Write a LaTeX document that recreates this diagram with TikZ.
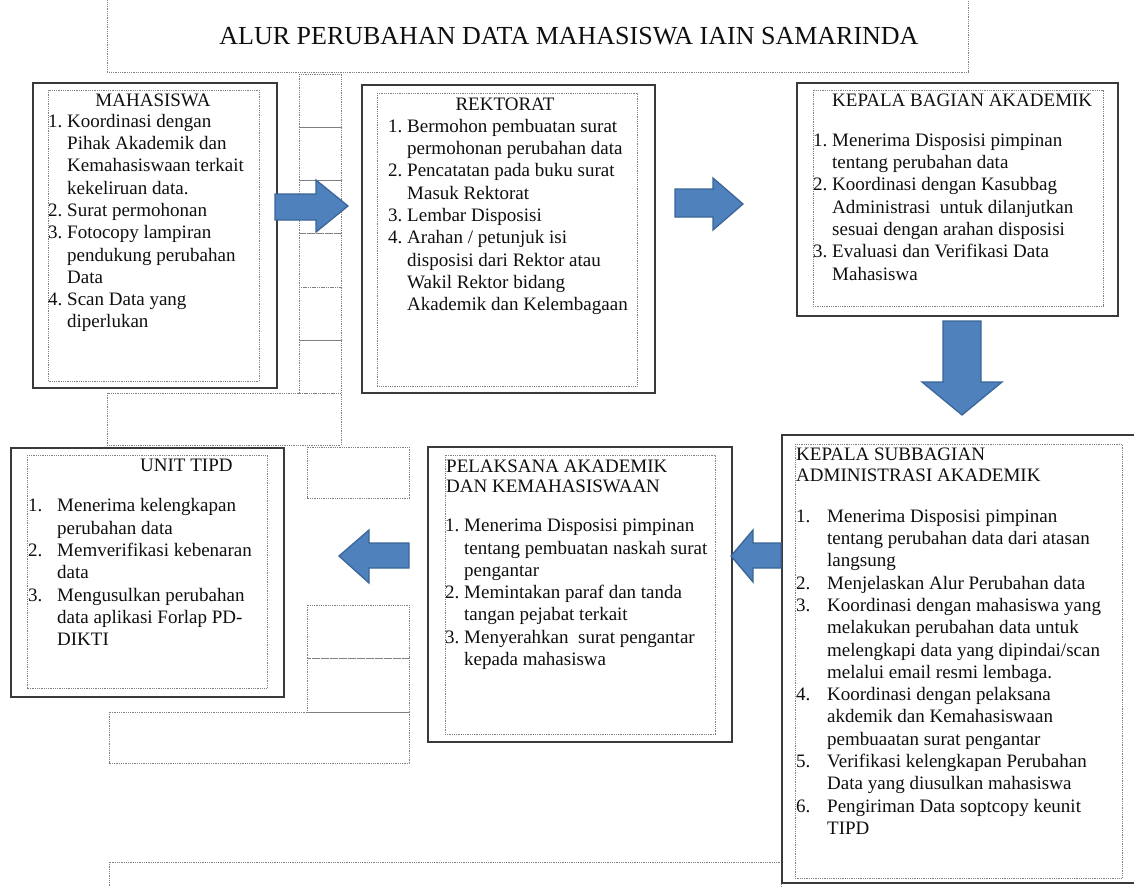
\documentclass[tikz,border=0pt]{standalone}
\usepackage{fontspec}
\setmainfont{Liberation Serif}
\newlength{\numw}
\newcommand{\itemline}[2]{\makebox[\numw][l]{#1}#2}
\newcommand{\contline}[1]{\hspace*{\numw}#1}
\newcommand{\topstrut}{\rule{0pt}{15pt}}
\definecolor{boxgray}{HTML}{3A3A3A}
\definecolor{dotgray}{HTML}{808080}
\definecolor{arrowblue}{HTML}{4F81BD}
\definecolor{arrowedge}{HTML}{3A6698}
\definecolor{txt}{HTML}{0F0F0F}
\tikzset{
  outerbox/.style={draw=boxgray, line width=1.6pt, fill=white},
  dotbox/.style={draw=dotgray, line width=0.9pt, dash pattern=on 0.9pt off 0.9pt},
  blockarrow/.style={fill=arrowblue, draw=arrowedge, line width=1.3pt, line join=miter},
  bodytext/.style={anchor=north west, inner sep=0pt, align=left, text=txt},
  headtext/.style={inner sep=0pt, text=txt, font=\fontsize{19}{20}\selectfont},
}
\begin{document}
\begin{tikzpicture}[x=1pt,y=-1pt]
\useasboundingbox (0,0) rectangle (1134,886);
\fill[white] (0,0) rectangle (1134,886);

% background dotted boxes
\draw[dotbox] (107,-5) rectangle (968,72);
\foreach \ya/\yb in {74/127,127/180,180/233,233/287,287/340,340/393}
  \draw[dotbox] (299,\ya) rectangle (341,\yb);
\draw[dotbox] (107,393) rectangle (341,445);
\draw[dotbox] (307,447) rectangle (409,498);
\draw[dotbox] (307,605) rectangle (409,658);
\draw[dotbox] (307,658) rectangle (409,712);
\draw[dotbox] (109,712) rectangle (409,763);
\draw[dotbox] (109,862) rectangle (781,900);

% title
\node[inner sep=0pt, anchor=base, text=txt, font=\fontsize{26}{28}\selectfont] (title) at (569,44)
  {ALUR PERUBAHAN DATA MAHASISWA IAIN SAMARINDA};

% MAHASISWA
\draw[outerbox] (33,83) rectangle (277,388);
\draw[dotbox] (48,90) rectangle (259,381);
\node[headtext, anchor=base] (mhsT) at (153,106) {MAHASISWA};
\node[bodytext, font={\fontsize{19}{22.3}\selectfont\setlength{\numw}{19pt}}] (mhs) at (48,112) {%
\topstrut\itemline{1.}{Koordinasi dengan}\\
\contline{Pihak Akademik dan}\\
\contline{Kemahasiswaan terkait}\\
\contline{kekeliruan data.}\\
\itemline{2.}{Surat permohonan}\\
\itemline{3.}{Fotocopy lampiran}\\
\contline{pendukung perubahan}\\
\contline{Data}\\
\itemline{4.}{Scan Data yang}\\
\contline{diperlukan}};

% REKTORAT
\draw[outerbox] (362,85) rectangle (655,393);
\draw[dotbox] (377,93) rectangle (637,386);
\node[headtext, anchor=base] (rekT) at (505,110) {REKTORAT};
\node[bodytext, font={\fontsize{19}{22.3}\selectfont\setlength{\numw}{19pt}}] (rek) at (388,117) {%
\topstrut\itemline{1.}{Bermohon pembuatan surat}\\
\contline{permohonan perubahan data}\\
\itemline{2.}{Pencatatan pada buku surat}\\
\contline{Masuk Rektorat}\\
\itemline{3.}{Lembar Disposisi}\\
\itemline{4.}{Arahan / petunjuk isi}\\
\contline{disposisi dari Rektor atau}\\
\contline{Wakil Rektor bidang}\\
\contline{Akademik dan Kelembagaan}};

% KEPALA BAGIAN AKADEMIK
\draw[outerbox] (797,83) rectangle (1118,316);
\draw[dotbox] (813,90) rectangle (1103,306);
\node[headtext, anchor=base west] (kbaT) at (832,106) {KEPALA BAGIAN AKADEMIK};
\node[bodytext, font={\fontsize{19}{22.3}\selectfont\setlength{\numw}{19pt}}] (kba) at (813,131) {%
\topstrut\itemline{1.}{Menerima Disposisi pimpinan}\\
\contline{tentang perubahan data}\\
\itemline{2.}{Koordinasi dengan Kasubbag}\\
\contline{Administrasi\ \ untuk dilanjutkan}\\
\contline{sesuai dengan arahan disposisi}\\
\itemline{3.}{Evaluasi dan Verifikasi Data}\\
\contline{Mahasiswa}};

% KEPALA SUBBAGIAN ADMINISTRASI AKADEMIK
\draw[outerbox] (782,435) rectangle (1140,883);
\draw[dotbox] (795,444) rectangle (1122,878);
\node[bodytext, font={\fontsize{19}{21.7}\selectfont}] (ksbT) at (796,445) {%
\topstrut KEPALA SUBBAGIAN\\ADMINISTRASI AKADEMIK};
\node[bodytext, font={\fontsize{19}{22.3}\selectfont\setlength{\numw}{31pt}}] (ksb) at (796,507) {%
\topstrut\itemline{1.}{Menerima Disposisi pimpinan}\\
\contline{tentang perubahan data dari atasan}\\
\contline{langsung}\\
\itemline{2.}{Menjelaskan Alur Perubahan data}\\
\itemline{3.}{Koordinasi dengan mahasiswa yang}\\
\contline{melakukan perubahan data untuk}\\
\contline{melengkapi data yang dipindai/scan}\\
\contline{melalui email resmi lembaga.}\\
\itemline{4.}{Koordinasi dengan pelaksana}\\
\contline{akdemik dan Kemahasiswaan}\\
\contline{pembuaatan surat pengantar}\\
\itemline{5.}{Verifikasi kelengkapan Perubahan}\\
\contline{Data yang diusulkan mahasiswa}\\
\itemline{6.}{Pengiriman Data soptcopy keunit}\\
\contline{TIPD}};

% PELAKSANA AKADEMIK DAN KEMAHASISWAAN
\draw[outerbox] (428,447) rectangle (732,742);
\draw[dotbox] (445,455) rectangle (715,734);
\node[bodytext, font={\fontsize{19}{20}\selectfont}] (pakT) at (446,457) {%
\topstrut PELAKSANA AKADEMIK\\DAN KEMAHASISWAAN};
\node[bodytext, font={\fontsize{19}{22.3}\selectfont\setlength{\numw}{19pt}}] (pak) at (445,516.5) {%
\topstrut\itemline{1.}{Menerima Disposisi pimpinan}\\
\contline{tentang pembuatan naskah surat}\\
\contline{pengantar}\\
\itemline{2.}{Memintakan paraf dan tanda}\\
\contline{tangan pejabat terkait}\\
\itemline{3.}{Menyerahkan\ \ surat pengantar}\\
\contline{kepada mahasiswa}};

% UNIT TIPD
\draw[outerbox] (11,448) rectangle (284,697);
\draw[dotbox] (27,455) rectangle (267,688);
\node[headtext, anchor=base west] (tipdT) at (140,471.7) {UNIT TIPD};
\node[bodytext, font={\fontsize{19}{22.3}\selectfont\setlength{\numw}{29pt}}] (tipd) at (28,496.7) {%
\topstrut\itemline{1.}{Menerima kelengkapan}\\
\contline{perubahan data}\\
\itemline{2.}{Memverifikasi kebenaran}\\
\contline{data}\\
\itemline{3.}{Mengusulkan perubahan}\\
\contline{data aplikasi Forlap PD-}\\
\contline{DIKTI}};

% block arrows
\draw[blockarrow] (275,194) -- (316,194) -- (316,180) -- (348,206) -- (316,232) -- (316,220) -- (275,220) -- cycle;
\draw[blockarrow] (675,189) -- (713,189) -- (713,178) -- (743,204) -- (713,230) -- (713,217) -- (675,217) -- cycle;
\draw[blockarrow] (943,321) -- (981,321) -- (981,382) -- (1002,382) -- (962,415) -- (922,382) -- (943,382) -- cycle;
\draw[blockarrow] (781,543) -- (753,543) -- (753,530) -- (731,556) -- (753,582) -- (753,568) -- (781,568) -- cycle;
\draw[blockarrow] (409,543) -- (369,543) -- (369,530) -- (339,556) -- (369,583) -- (369,568) -- (409,568) -- cycle;
\end{tikzpicture}
\end{document}
